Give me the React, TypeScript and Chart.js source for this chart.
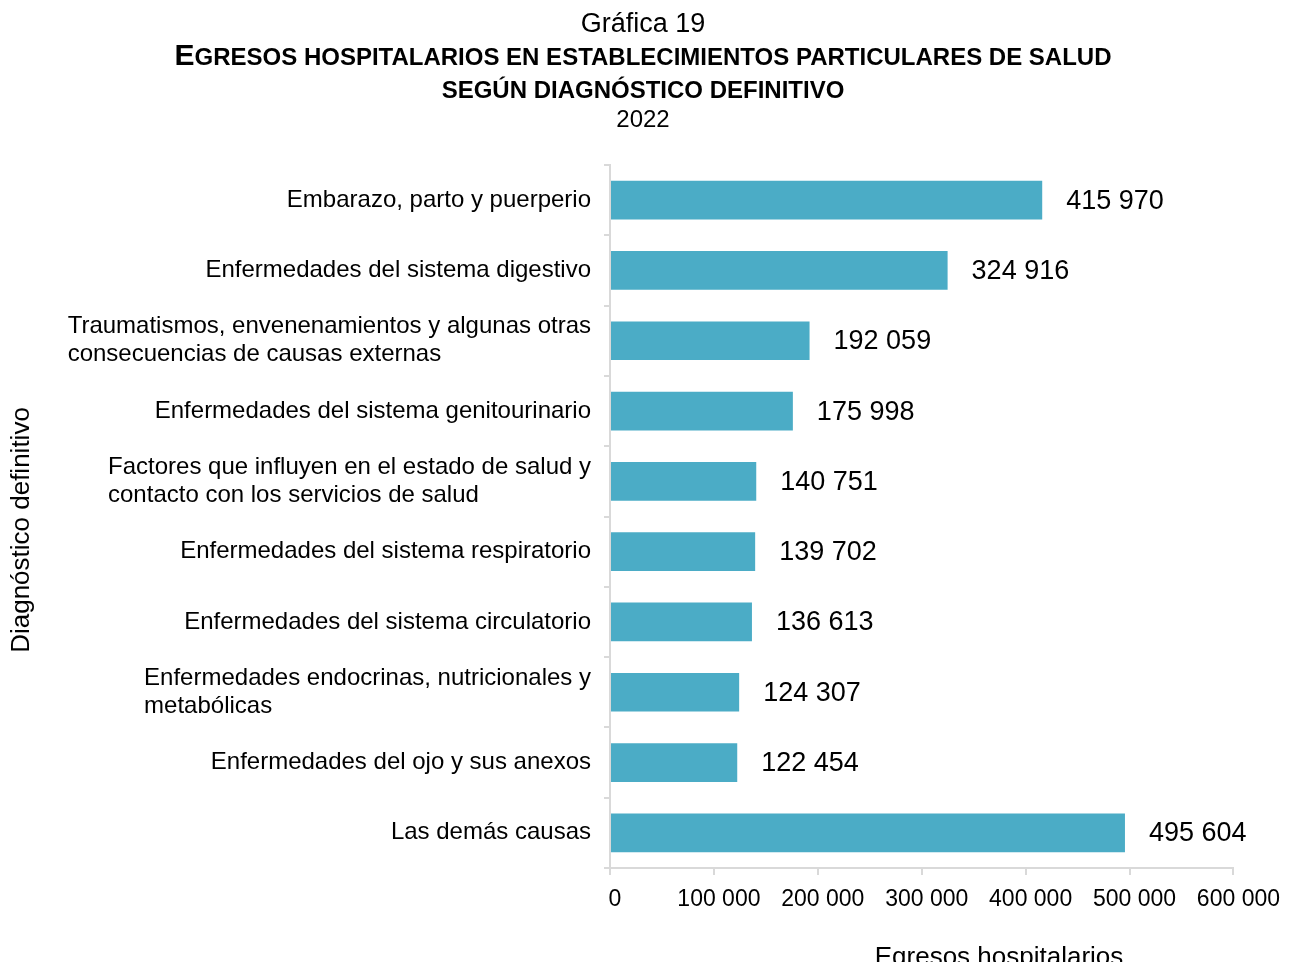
import React, { useEffect, useRef } from "react";
import { Chart, registerables } from "chart.js";

Chart.register(...registerables);

const categories: (string | string[])[] = [
  "Embarazo, parto y puerperio",
  "Enfermedades del sistema digestivo",
  ["Traumatismos, envenenamientos y algunas otras", "consecuencias de causas externas"],
  "Enfermedades del sistema genitourinario",
  ["Factores que influyen en el estado de salud y", "contacto con los servicios de salud"],
  "Enfermedades del sistema respiratorio",
  "Enfermedades del sistema circulatorio",
  ["Enfermedades endocrinas, nutricionales y", "metabólicas"],
  "Enfermedades del ojo y sus anexos",
  "Las demás causas",
];

const values: number[] = [415970, 324916, 192059, 175998, 140751, 139702, 136613, 124307, 122454, 495604];

const xMin = 0;
const xMax = 600000;
const xStep = 100000;

const titleTop = "Gráfica 19";
const titleMain1 = "EGRESOS HOSPITALARIOS EN ESTABLECIMIENTOS PARTICULARES DE SALUD";
const titleMain2 = "SEGÚN DIAGNÓSTICO DEFINITIVO";
const titleYear = "2022";
const xTitle = "Egresos hospitalarios";
const yTitle = "Diagnóstico definitivo";

const FONT = "'Liberation Sans', Arial, Helvetica, sans-serif";
const BAR_COLOR = "#4BACC6";
const AXIS_COLOR = "#d9d9d9";

const fmt = (n: number) => String(Math.round(n)).replace(/\B(?=(\d{3})+(?!\d))/g, " ");

const drawPlugin = {
  id: "customText",
  afterDraw(chart: any) {
    const ctx: CanvasRenderingContext2D = chart.ctx;
    const cx = 635;
    ctx.save();
    ctx.fillStyle = "#000";
    ctx.textBaseline = "alphabetic";

    // Title line 1
    ctx.textAlign = "center";
    ctx.font = `27px ${FONT}`;
    ctx.fillText(titleTop, cx, 24);

    // Title line 2 (small caps style)
    const big = titleMain1.charAt(0);
    const rest = titleMain1.slice(1);
    ctx.font = `bold 30px ${FONT}`;
    const wBig = ctx.measureText(big).width;
    ctx.font = `bold 24px ${FONT}`;
    const wRest = ctx.measureText(rest).width;
    const x0 = cx - (wBig + wRest) / 2;
    ctx.textAlign = "left";
    ctx.font = `bold 30px ${FONT}`;
    ctx.fillText(big, x0, 57);
    ctx.font = `bold 24px ${FONT}`;
    ctx.fillText(rest, x0 + wBig, 57);

    // Title line 3
    ctx.textAlign = "center";
    ctx.font = `bold 24px ${FONT}`;
    ctx.fillText(titleMain2, cx, 90);

    // Year
    ctx.font = `24px ${FONT}`;
    ctx.fillText(titleYear, cx, 119);

    // Category labels (block right aligned, lines left aligned)
    const yScale = chart.scales.y;
    ctx.font = `24px ${FONT}`;
    ctx.textBaseline = "middle";
    ctx.textAlign = "left";
    const lineH = 28;
    const rightEdge = chart.chartArea.left - 19;
    categories.forEach((c, i) => {
      const lines = Array.isArray(c) ? c : [c];
      const w = Math.max(...lines.map((l) => ctx.measureText(l).width));
      const yc = yScale.getPixelForValue(i);
      lines.forEach((l, j) => {
        ctx.fillText(l, rightEdge - w, yc - ((lines.length - 1) * lineH) / 2 + j * lineH);
      });
    });

    // Data labels
    const meta = chart.getDatasetMeta(0);
    ctx.font = `27px ${FONT}`;
    meta.data.forEach((bar: any, i: number) => {
      ctx.fillText(fmt(values[i]), bar.x + 24, bar.y + 1);
    });

    // X axis title
    ctx.textAlign = "center";
    ctx.textBaseline = "alphabetic";
    ctx.font = `26px ${FONT}`;
    ctx.fillText(xTitle, 991, 957);

    // Y axis title
    ctx.textBaseline = "middle";
    ctx.translate(14, 522);
    ctx.rotate(-Math.PI / 2);
    ctx.fillText(yTitle, 0, 0);
    ctx.restore();
  },
};

export default function App() {
  const canvasRef = useRef<HTMLCanvasElement | null>(null);

  useEffect(() => {
    if (!canvasRef.current) return;
    Chart.defaults.color = "#000";
    const chart = new Chart(canvasRef.current, {
      type: "bar",
      data: {
        labels: categories.map((c) => (Array.isArray(c) ? c.join(" ") : c)),
        datasets: [
          {
            data: values,
            backgroundColor: BAR_COLOR,
            borderWidth: 0,
            barPercentage: 1,
            categoryPercentage: 0.55,
          },
        ],
      },
      options: {
        indexAxis: "y",
        animation: false,
        responsive: true,
        maintainAspectRatio: false,
        layout: { padding: { top: 157, left: 0, right: 49, bottom: 0 } },
        plugins: {
          legend: { display: false },
          title: { display: false },
          tooltip: { enabled: false },
        },
        scales: {
          x: {
            type: "linear",
            min: xMin,
            max: xMax,
            ticks: {
              stepSize: xStep,
              callback: (v: any) => fmt(Number(v)),
              font: { family: FONT, size: 23 },
              color: "#000",
              padding: 11,
              labelOffset: 5,
              maxRotation: 0,
            },
            grid: {
              drawOnChartArea: false,
              color: AXIS_COLOR,
              lineWidth: 2,
              tickLength: 7,
            },
            border: { color: AXIS_COLOR, width: 2 },
            afterFit: (s: any) => {
              s.height = 102;
            },
          },
          y: {
            type: "category",
            offset: true,
            ticks: { display: false },
            grid: {
              drawOnChartArea: false,
              offset: true,
              color: AXIS_COLOR,
              lineWidth: 2,
              tickLength: 6,
            },
            border: { color: AXIS_COLOR, width: 2 },
            afterFit: (s: any) => {
              s.width = 602;
            },
          },
        },
      },
      plugins: [drawPlugin],
    });
    return () => chart.destroy();
  }, []);

  return (
    <div style={{ width: 1278, height: 962, position: "relative", marginBottom: -8 }}>
      <canvas ref={canvasRef} />
    </div>
  );
}
